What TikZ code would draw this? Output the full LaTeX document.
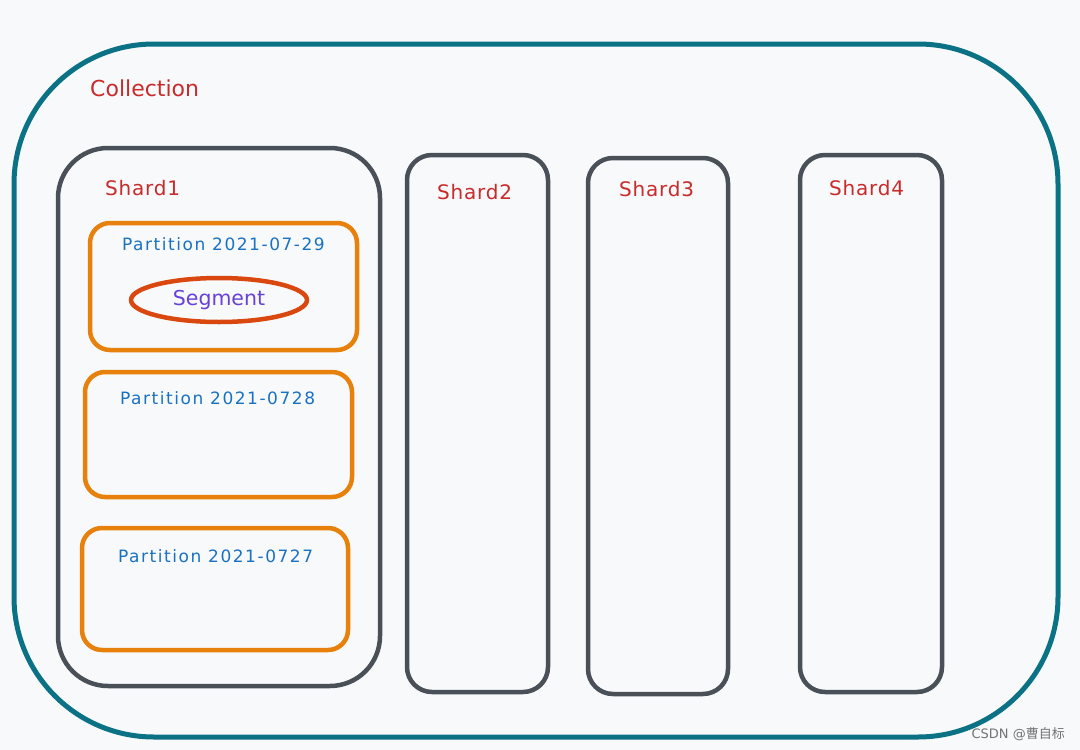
\documentclass[tikz,border=0pt]{standalone}
\usepackage{fontspec}
\setmainfont{DejaVu Sans}
\newfontfamily\cjk{Noto Sans CJK SC}
\newfontfamily\partfont[LetterSpace=9]{DejaVu Sans}
\newfontfamily\redfont[LetterSpace=4]{DejaVu Sans}
\usetikzlibrary{shapes.geometric}
\definecolor{bgc}{HTML}{F8F9FB}
\definecolor{teal}{HTML}{0B7285}
\definecolor{shardc}{HTML}{495057}
\definecolor{redt}{HTML}{C92A2A}
\definecolor{orangec}{HTML}{E8800C}
\definecolor{segc}{HTML}{D9480F}
\definecolor{bluet}{HTML}{1971C2}
\definecolor{violet}{HTML}{6741D9}
\tikzset{
  collbox/.style={draw=teal,line width=5pt,rounded corners=140pt},
  shardbox/.style={draw=shardc,line width=4.5pt},
  partbox/.style={draw=orangec,line width=4.5pt,rounded corners=20pt},
  segbox/.style={draw=segc,line width=4.5pt},
  redlabel/.style={text=redt,font=\redfont\fontsize{20}{22}\selectfont,anchor=west,inner sep=0pt},
  partlabel/.style={text=bluet,font=\partfont\fontsize{17}{18}\selectfont,anchor=west,inner sep=0pt},
}
\begin{document}
\begin{tikzpicture}[x=1pt,y=-1pt]
\useasboundingbox[fill=bgc] (0,0) rectangle (1080,750);
% collection
\draw[collbox] (14,44) rectangle (1058,737);
\node[redlabel,font=\fontsize{22}{24}\selectfont] (coll) at (90,88) {Collection};
% shards
\draw[shardbox,rounded corners=50pt] (58,148) rectangle (380,686);
\node[redlabel] (s1) at (105,188) {Shard1};
\draw[shardbox,rounded corners=25pt] (407,155) rectangle (548,692);
\node[redlabel] (s2) at (437,192) {Shard2};
\draw[shardbox,rounded corners=25pt] (588,158) rectangle (728,694);
\node[redlabel] (s3) at (619,189) {Shard3};
\draw[shardbox,rounded corners=25pt] (800,155) rectangle (942,692);
\node[redlabel] (s4) at (829,188) {Shard4};
% partitions
\draw[partbox] (90,223) rectangle (357,350);
\node[partlabel] (p1) at (122,244) {Partition 2021-07-29};
\node[segbox,ellipse,minimum width=176pt,minimum height=44pt,inner sep=0pt,
      text=violet,font=\fontsize{20.5}{22}\selectfont] (seg) at (219,300) {Segment};
\draw[partbox] (85,372) rectangle (352,497);
\node[partlabel] (p2) at (120,398) {Partition 2021-0728};
\draw[partbox] (82,528) rectangle (348,650);
\node[partlabel] (p3) at (118,556) {Partition 2021-0727};
% watermark
\node[text=black!55,font=\fontsize{13}{15}\selectfont,anchor=east,inner sep=0pt] (wm) at (1065,734) {CSDN @{\cjk 曹自标}};
\end{tikzpicture}
\end{document}
